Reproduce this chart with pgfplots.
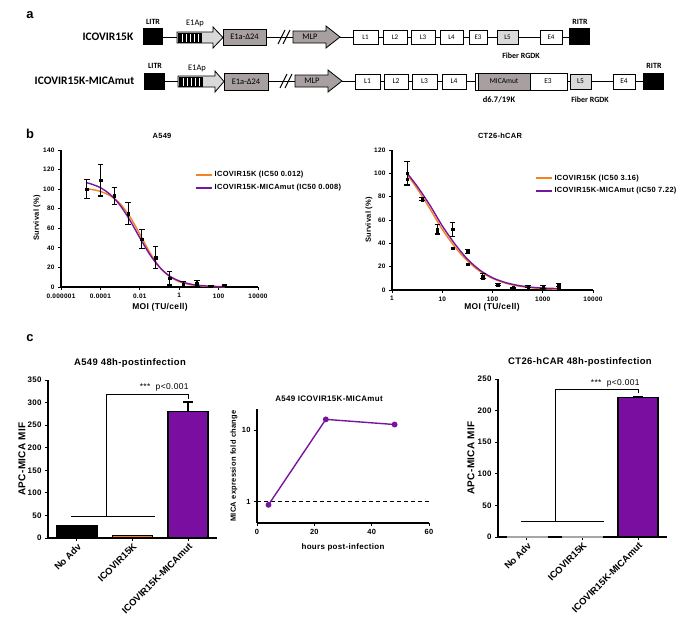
\documentclass[border=0pt]{standalone}
\usepackage{fontspec}
\setmainfont{Liberation Sans}
\newfontfamily\gp[LetterSpace=4]{Liberation Sans}
\newfontfamily\calibri{Carlito}
\usepackage{pgfplots}
\pgfplotsset{compat=1.18}
\definecolor{cOrange}{RGB}{245,130,32}
\definecolor{cPurple}{RGB}{118,22,160}
\definecolor{cBar}{RGB}{122,14,160}
\definecolor{boxGray}{RGB}{168,160,160}
\definecolor{lightGray}{RGB}{217,217,217}

\pgfplotsset{
  gp/.style={
    scale only axis,
    anchor=south west,
    axis lines=left,
    axis line style={-, line width=1.3pt},
    tick align=outside,
    major tick length=3bp,
    tick style={line width=1pt, black},
    minor tick style={draw=none},
    /pgf/number format/assume math mode=true,
    clip=false,
  },
  lg/.style={
    legend cell align=left,
    legend style={draw=none, fill=none, inner sep=0pt, row sep=2pt,
      font=\gp\bfseries\fontsize{7.5}{9}\selectfont},
    legend image code/.code={\draw[##1, line width=1.6pt] (0bp,0bp) -- (16bp,0bp);},
  },
  pts/.style={only marks, mark=square*, mark size=1.3bp, black,
    error bars/.cd, y dir=both, y explicit,
    error bar style={line width=1.1pt, black},
    error mark options={rotate=90, mark size=2.8bp, line width=1.1pt, black}},
  bar/.style={ybar, bar width=0.72, bar shift=0pt, draw=black, line width=1.3pt},
  cats/.style={
    xtick={0,1,2}, xticklabels={No Adv, ICOVIR15K, ICOVIR15K-MICAmut},
    tick label style={font=\gp\bfseries\fontsize{8}{8}\selectfont},
    x tick label style={rotate=45, anchor=north east, inner sep=1pt,
      font=\bfseries\fontsize{9.5}{9.5}\selectfont},
  },
}

\begin{document}
\begin{tikzpicture}
\path[use as bounding box, fill=white] (0,0) rectangle (685bp,-634bp);

% ---------- panel a: construct maps ----------
\begin{scope}[x=1bp, y=-1bp, line width=0.8pt]
\node[font=\bfseries\fontsize{13}{13}\selectfont] at (30,15) {a};
\node[font=\bfseries\fontsize{13}{13}\selectfont] at (30,134) {b};
\node[font=\bfseries\fontsize{13}{13}\selectfont] at (30,338) {c};

% row 1
\node[anchor=east, font=\calibri\bfseries\fontsize{11.5}{12}\selectfont] at (137,37) {ICOVIR15K};
\draw[line width=1pt] (163,37) -- (177,37) (266,37) -- (293,37) (340,37) -- (569,37);
\fill[black] (143,28) rectangle (163,45);
\node[font=\calibri\bfseries\fontsize{8}{8}\selectfont] at (153,22) {LITR};
\draw[fill=lightGray] (177,32) -- (213,32) -- (213,27) -- (223,37.5) -- (213,48) -- (213,43) -- (177,43) -- cycle;
\fill[black] (178,32.5) rectangle (202,42.5);
\foreach \s in {182,186,190,194,198} \draw[white, line width=1pt] (\s,33.5) -- (\s,41.5);
\node[font=\calibri\fontsize{8.5}{9}\selectfont] at (195,23) {E1Ap};
\draw[fill=boxGray] (223,29) rectangle (266,45);
\node[font=\calibri\fontsize{8.5}{9}\selectfont] at (244.5,37) {E1a-Δ24};
\draw[line width=0.9pt] (278,44) -- (285,30) (283,44) -- (290,30);
\draw[fill=boxGray] (293,31) -- (326,31) -- (326,26) -- (340,37) -- (326,48) -- (326,43) -- (293,43) -- cycle;
\node[font=\calibri\fontsize{8.5}{9}\selectfont] at (310,37) {MLP};
\foreach \a/\b/\t in {353/378/L1, 383/407/L2, 411/435/L3, 440/463/L4, 469/487/E3, 540/562/E4}
  {\draw[fill=white] (\a,30) rectangle (\b,44);
   \node[font=\calibri\fontsize{7}{7}\selectfont] at ({(\a+\b)/2},37) {\t};}
\draw[fill=lightGray] (497,30) rectangle (518,44);
\node[font=\calibri\fontsize{7}{7}\selectfont] at (507.5,37) {L5};
\fill[black] (569,28) rectangle (590,45);
\node[font=\calibri\bfseries\fontsize{8}{8}\selectfont] at (580,22) {RITR};
\node[font=\calibri\bfseries\fontsize{8}{8}\selectfont] at (521,56) {Fiber RGDK};

% row 2
\node[anchor=east, font=\calibri\bfseries\fontsize{11.5}{12}\selectfont] at (138,81) {ICOVIR15K-MICAmut};
\draw[line width=1pt] (165,81) -- (178,81) (268,81) -- (295,81) (342,81) -- (643,81);
\fill[black] (144,73) rectangle (165,90);
\node[font=\calibri\bfseries\fontsize{8}{8}\selectfont] at (155,66) {LITR};
\draw[fill=lightGray] (178,76) -- (215,76) -- (215,71) -- (224,81.5) -- (215,92) -- (215,87) -- (178,87) -- cycle;
\fill[black] (179,76.5) rectangle (203,86.5);
\foreach \s in {183,187,191,195,199} \draw[white, line width=1pt] (\s,77.5) -- (\s,85.5);
\node[font=\calibri\fontsize{8.5}{9}\selectfont] at (197,68) {E1Ap};
\draw[fill=boxGray] (224,73) rectangle (268,90);
\node[font=\calibri\fontsize{8.5}{9}\selectfont] at (246,81.5) {E1a-Δ24};
\draw[line width=0.9pt] (280,88) -- (287,74) (285,88) -- (292,74);
\draw[fill=boxGray] (295,75) -- (328,75) -- (328,70) -- (342,81) -- (328,92) -- (328,87) -- (295,87) -- cycle;
\node[font=\calibri\fontsize{8.5}{9}\selectfont] at (312,81) {MLP};
\foreach \a/\b/\t in {355/380/L1, 384/408/L2, 412/437/L3, 442/466/L4, 613/635/E4}
  {\draw[fill=white] (\a,74) rectangle (\b,89);
   \node[font=\calibri\fontsize{7.5}{8}\selectfont] at ({(\a+\b)/2},81.5) {\t};}
\draw[fill=white] (475,73) rectangle (567,90);
\draw[fill=boxGray] (478,73) rectangle (530,90);
\node[font=\calibri\fontsize{7.5}{8}\selectfont] at (504,81.5) {MICAmut};
\node[font=\calibri\fontsize{7.5}{8}\selectfont] at (548,81.5) {E3};
\draw[fill=lightGray] (570,74) rectangle (591,89);
\node[font=\calibri\fontsize{7.5}{8}\selectfont] at (580.5,81.5) {L5};
\fill[black] (643,73) rectangle (664,90);
\node[font=\calibri\bfseries\fontsize{8}{8}\selectfont] at (654,66) {RITR};
\node[font=\calibri\bfseries\fontsize{8.5}{9}\selectfont] at (499,100) {d6.7/19K};
\node[font=\calibri\bfseries\fontsize{8}{8}\selectfont] at (590,100) {Fiber RGDK};

% axis titles and labels
\node[font=\gp\bfseries\fontsize{7.5}{8}\selectfont] at (162,136) {A549};
\node[font=\gp\bfseries\fontsize{7.5}{8}\selectfont] at (500,136) {CT26-hCAR};
\node[rotate=90, font=\gp\bfseries\fontsize{7.5}{8}\selectfont] at (37,218) {Survival (\%)};
\node[rotate=90, font=\gp\bfseries\fontsize{7.5}{8}\selectfont] at (369,220) {Survival (\%)};
\node[font=\gp\bfseries\fontsize{8.5}{9}\selectfont] at (160,307) {MOI (TU/cell)};
\node[font=\gp\bfseries\fontsize{8.5}{9}\selectfont] at (492,307) {MOI (TU/cell)};
\node[font=\gp\bfseries\fontsize{9.5}{10}\selectfont] at (130,363) {A549 48h-postinfection};
\node[font=\gp\bfseries\fontsize{9.5}{10}\selectfont] at (580,362) {CT26-hCAR 48h-postinfection};
\node[font=\gp\bfseries\fontsize{8}{9}\selectfont] at (329,399) {A549 ICOVIR15K-MICAmut};
\node[rotate=90, font=\gp\bfseries\fontsize{10}{10}\selectfont] at (22,459) {APC-MICA MIF};
\node[rotate=90, font=\gp\bfseries\fontsize{10}{10}\selectfont] at (471,458) {APC-MICA MIF};
\node[rotate=90, font=\gp\bfseries\fontsize{7.5}{8}\selectfont] at (234,466) {MICA expression fold change};
\node[font=\gp\bfseries\fontsize{8}{9}\selectfont] at (343,547) {hours post-infection};
\end{scope}

% ---------- panel b, A549 ----------
\begin{axis}[gp, lg, at={(61bp,-287bp)}, width=197bp, height=137bp,
  xmode=log, xmin=1e-6, xmax=1e4, ymin=0, ymax=140, ytick={0,20,...,140},
  xtick={1e-6,1e-4,1e-2,1,1e2,1e4},
  xticklabels={0.000001,0.0001,0.01,1,100,10000},
  tick label style={font=\gp\bfseries\fontsize{6.5}{7}\selectfont},
  legend style={at={(0.68,0.86)}, anchor=north west}]
\addplot[cOrange, line width=1.4pt, smooth] table {
x y
2.0e-5 100.4
3.16e-5 99.9
1e-4 97.7
3.16e-4 93.2
1e-3 85.1
3.16e-3 71.8
1e-2 54.1
3.16e-2 35.5
0.1 20.6
0.316 10.9
1 5.45
3.16 2.66
10 1.27
31.6 0.61
100 0.29
200 0.18
};
\addlegendentry{ICOVIR15K (IC50 0.012)}
\addplot[cPurple, line width=1.4pt, smooth] table {
x y
2.0e-5 106.5
3.16e-5 105.5
1e-4 101.5
3.16e-4 94.5
1e-3 83.5
3.16e-3 68.1
1e-2 50.4
3.16e-2 33.5
0.1 20.2
0.316 11.4
1 6.17
3.16 3.25
10 1.69
31.6 0.88
100 0.45
200 0.30
};
\addlegendentry{ICOVIR15K-MICAmut (IC50 0.008)}
\addplot[forget plot, pts] table[x=x, y=y, y error=e] {
x y e
2.05e-5 100 10
1.02e-4 109 16
5.12e-4 93 9
2.56e-3 75 11
0.0128 49 10
0.064 30 11
0.32 9 7
1.6 3 3
8 3.5 3
40 1 0.5
200 2 1
};
\end{axis}

% ---------- panel b, CT26-hCAR ----------
\begin{axis}[gp, lg, at={(392bp,-290bp)}, width=201bp, height=140bp,
  xmode=log, xmin=1, xmax=1e4, ymin=0, ymax=120, ytick={0,20,...,120},
  xtick={1,10,100,1000,10000}, xticklabels={1,10,100,1000,10000},
  tick label style={font=\gp\bfseries\fontsize{6.5}{7}\selectfont},
  legend style={at={(0.71,0.84)}, anchor=north west}]
\addplot[cOrange, line width=1.4pt, smooth] table {
x y
2 99
3.16 87
5.62 70
10 52
17.8 37
31.6 25
56.2 16
100 10
178 6
316 3.5
562 2
1000 1.2
2000 0.6
};
\addlegendentry{ICOVIR15K (IC50 3.16)}
\addplot[cPurple, line width=1.4pt, smooth] table {
x y
2 100
3.16 89
5.62 73
10 55
17.8 39.5
31.6 26.5
56.2 17
100 10.5
178 6.5
316 4
562 2.5
1000 1.7
2000 1.2
};
\addlegendentry{ICOVIR15K-MICAmut (IC50 7.22)}
\addplot[forget plot, pts] table[x=x, y=y, y error=e] {
x y e
2 100 10
4 78 1
8 52 4
16 52 6
32 33 2
64 12 2
128 4.5 1
256 2 0.5
512 3 0.5
1024 2.5 1
2048 4 1.2
};
\addplot[forget plot, only marks, mark=square*, mark size=1.3bp, black] table {
x y
2 95
4 77
8 50
16 36
32 22
64 10
128 4
256 2
512 2
1024 1.7
2048 1.4
};
\end{axis}

% ---------- panel c, A549 bars ----------
\begin{axis}[gp, cats, at={(48bp,-538bp)}, width=169bp, height=158bp,
  xmin=-0.52, xmax=2.52, ymin=0, ymax=350, ytick={0,50,...,350}]
\addplot[bar, fill=black] coordinates {(0,28)};
\addplot[bar, fill=cOrange] coordinates {(1,6)};
\addplot[bar, fill=cBar, error bars/.cd, y dir=plus, y explicit,
  error bar style={line width=1.3pt, black},
  error mark options={rotate=90, mark size=5bp, line width=1.3pt, black}]
  coordinates {(2,281) +- (0,20)};
\draw[line width=1pt] (axis cs:-0.11,47) -- (axis cs:1.41,47);
\draw[line width=1pt] (axis cs:0.54,47) -- (axis cs:0.54,317) -- (axis cs:2,317) -- (axis cs:2,309);
\node[anchor=base, font=\gp\fontsize{8.5}{9}\selectfont] at (axis cs:1.57,328) {***\ \ p<0.001};
\end{axis}

% ---------- panel c, time course ----------
\begin{axis}[gp, at={(257bp,-523bp)}, width=172bp, height=114bp,
  xmin=0, xmax=60, xtick={0,20,40,60},
  ymode=log, ymin=0.5, ymax=20, ytick={1,10}, yticklabels={1,10},
  tick label style={font=\gp\bfseries\fontsize{7.5}{8}\selectfont}]
\draw[dashed, dash pattern=on 4bp off 3bp, line width=1pt] (axis cs:0,1) -- (axis cs:60,1);
\addplot[cPurple, line width=1.4pt, mark=*, mark size=2.2bp] coordinates {(4,0.9) (24,14.3) (48,12.1)};
\end{axis}

% ---------- panel c, CT26-hCAR bars ----------
\begin{axis}[gp, cats, at={(498bp,-537bp)}, width=169bp, height=158bp,
  xmin=-0.52, xmax=2.52, ymin=0, ymax=250, ytick={0,50,...,250}]
\addplot[bar, fill=gray!40, draw=gray!70, line width=0.8pt] coordinates {(0,1)};
\addplot[bar, fill=gray!40, draw=gray!70, line width=0.8pt] coordinates {(1,1)};
\addplot[bar, fill=cBar, error bars/.cd, y dir=plus, y explicit,
  error bar style={line width=1.3pt, black},
  error mark options={rotate=90, mark size=5bp, line width=1.3pt, black}]
  coordinates {(2,221) +- (0,1.5)};
\draw[line width=1pt] (axis cs:-0.11,24) -- (axis cs:1.39,24);
\draw[line width=1pt] (axis cs:0.52,24) -- (axis cs:0.52,234) -- (axis cs:2,234) -- (axis cs:2,228);
\node[anchor=base, font=\gp\fontsize{8.5}{9}\selectfont] at (axis cs:1.59,240) {***\ \ p<0.001};
\end{axis}
\end{tikzpicture}
\end{document}
